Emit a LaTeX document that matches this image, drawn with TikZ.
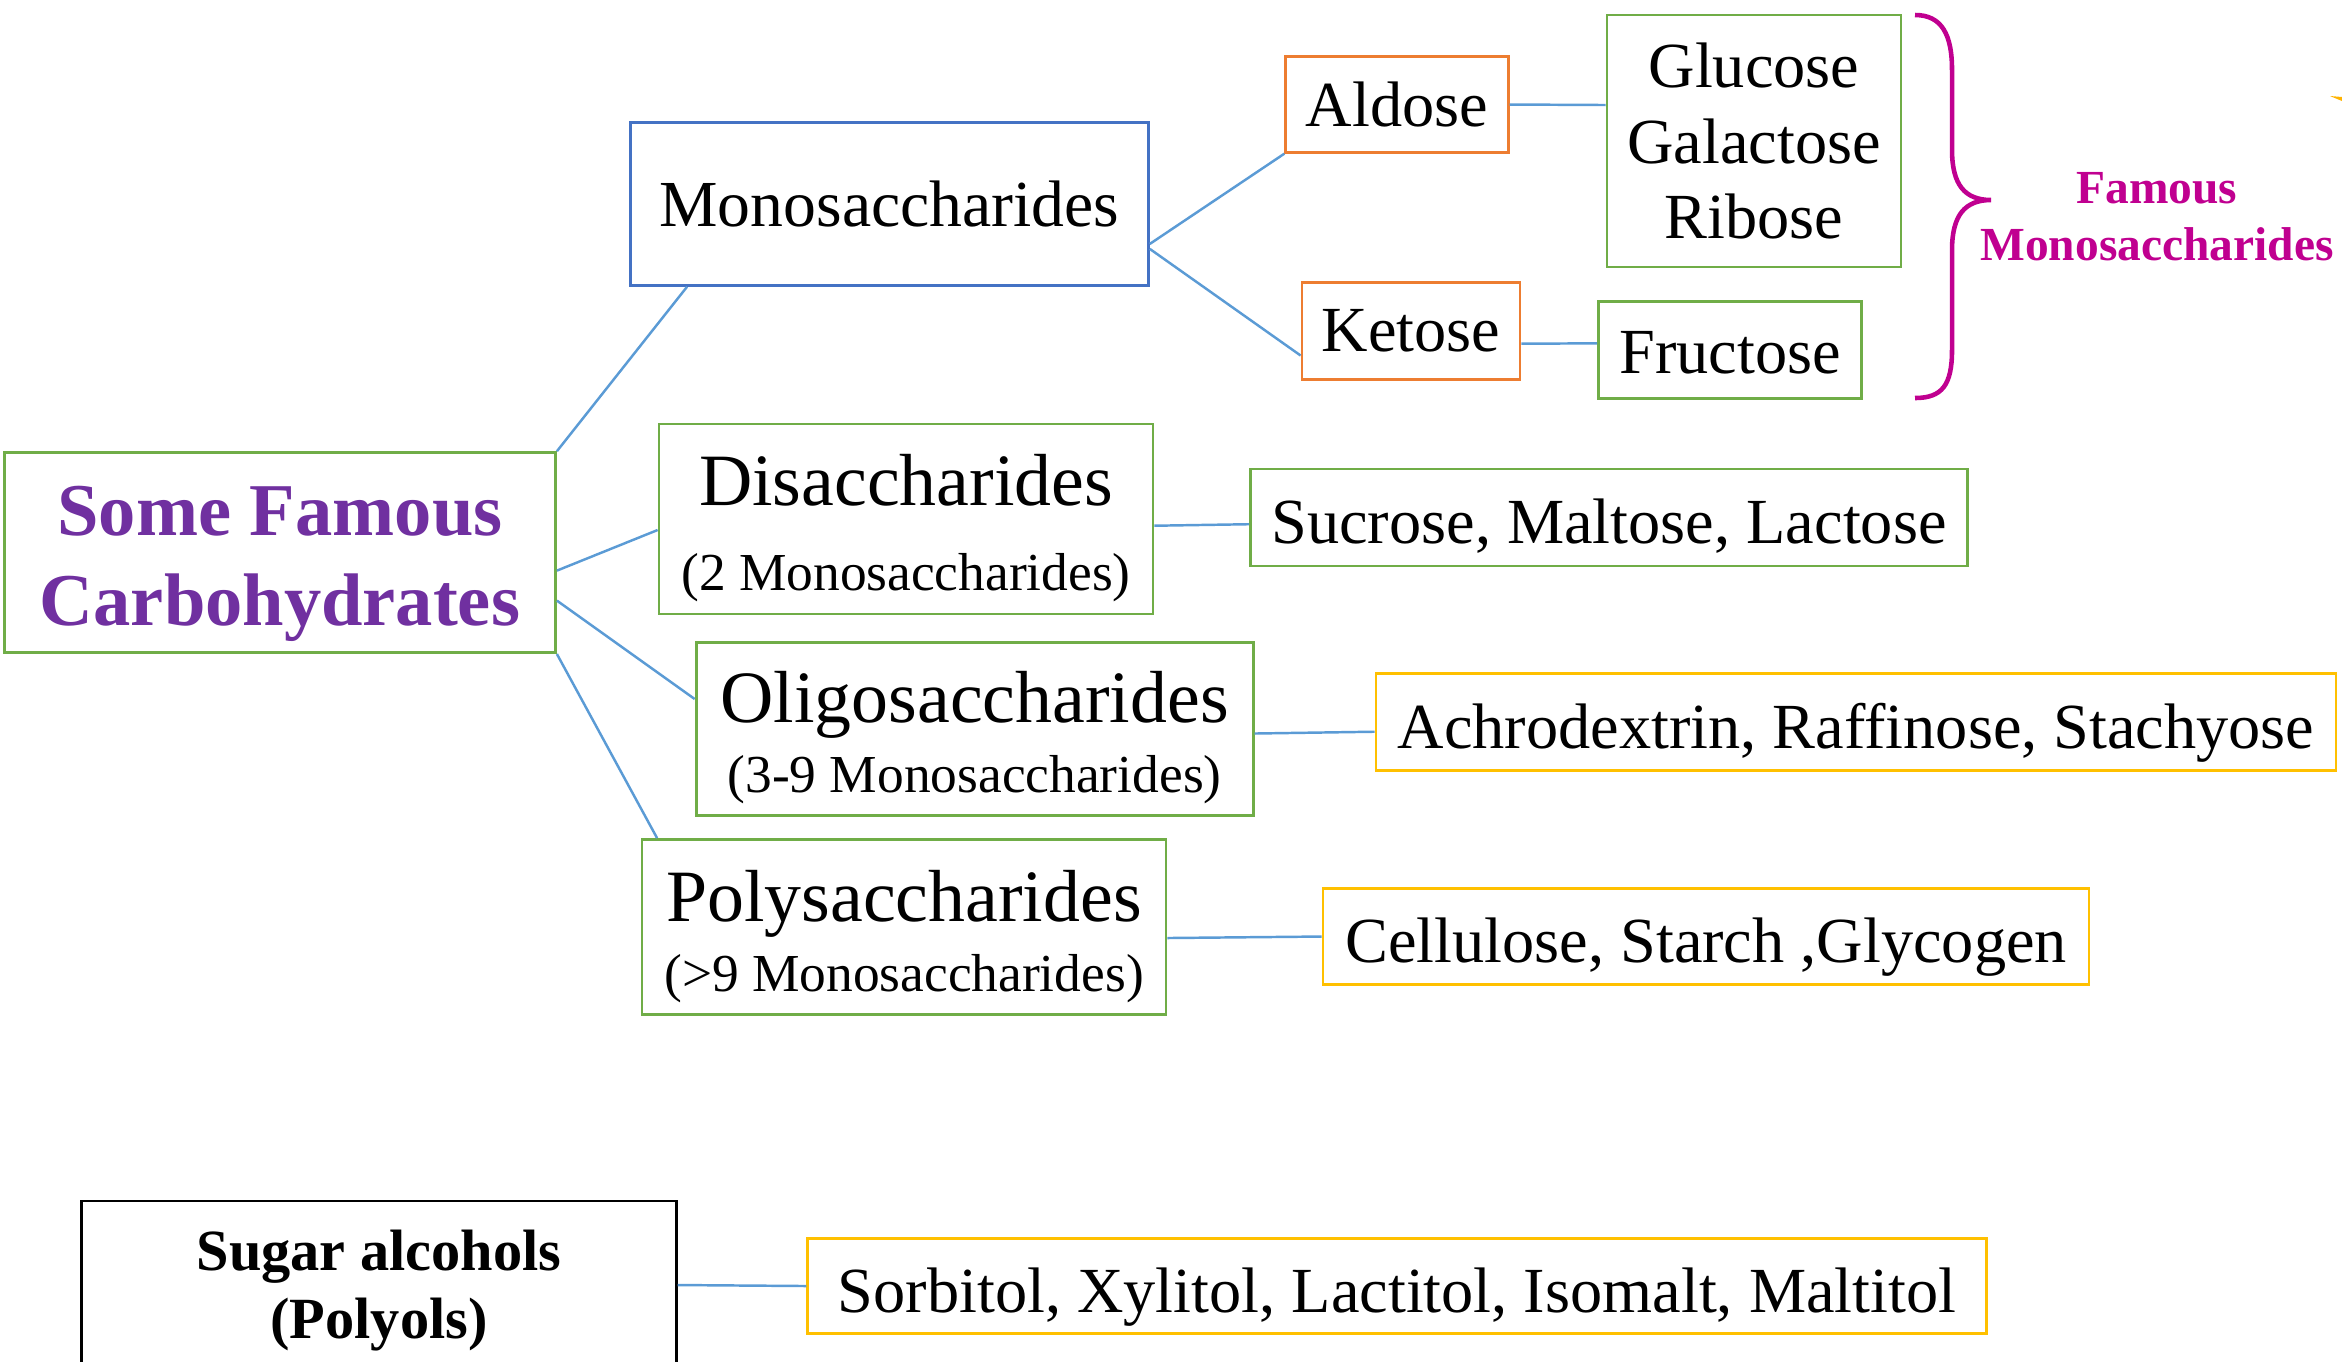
\documentclass[tikz,border=0pt]{standalone}
\usepackage{fontspec}
\setmainfont{Liberation Serif}

\definecolor{boxgreen}{HTML}{70AD47}
\definecolor{boxblue}{HTML}{4472C4}
\definecolor{boxorange}{HTML}{ED7D31}
\definecolor{boxyellow}{HTML}{FFC000}
\definecolor{linkblue}{HTML}{5B9BD5}
\definecolor{titlepurple}{HTML}{7030A0}
\definecolor{bracemagenta}{HTML}{C00090}

\tikzset{
	box/.style={draw, line width=0.8pt, inner sep=0pt, align=center, font=\fontsize{18.3}{21.6}\selectfont},
	greenbox/.style={box, draw=boxgreen},
	orangebox/.style={box, draw=boxorange},
	yellowbox/.style={box, draw=boxyellow},
	listbox/.style={text height=15pt, text depth=0pt},
	classbox/.style={greenbox, font=\fontsize{21}{25.5}\selectfont},
	link/.style={draw=linkblue, line width=0.7pt}
}
\newcommand{\subline}[1]{{\fontsize{15.2}{18}\selectfont #1}}

\begin{document}
\begin{tikzpicture}
		\useasboundingbox (0,0) rectangle (23.42,-13.61);

		\node[greenbox, minimum width=5.51cm, minimum height=2cm, text=titlepurple,
			font=\fontsize{21.2}{25.5}\selectfont\bfseries] (root) at (2.80,-5.526) {\rule{0pt}{20.4pt}Some Famous\\Carbohydrates};

		\node[box, draw=boxblue, minimum width=5.18cm, minimum height=1.63cm,
			font=\fontsize{18.7}{22}\selectfont] (mono) at (8.894,-2.039) {Monosaccharides};
		\node[classbox, minimum width=4.94cm, minimum height=1.90cm] (di) at (9.06,-5.19) {\rule{0pt}{19.8pt}Disaccharides\\[-1.3pt]\subline{(2 Monosaccharides)}};
		\node[classbox, minimum width=5.57cm, minimum height=1.73cm] (oligo) at (9.746,-7.29) {\rule{0pt}{19.5pt}Oligosaccharides\\[-5.5pt]\subline{(3-9 Monosaccharides)}};
		\node[classbox, minimum width=5.24cm, minimum height=1.75cm] (poly) at (9.04,-9.27) {\rule{0pt}{19.8pt}Polysaccharides\\[-5.6pt]\subline{(>9 Monosaccharides)}};

		\node[orangebox, minimum width=2.225cm, minimum height=0.955cm] (aldose) at (13.97,-1.045) {Aldose};
		\node[orangebox, minimum width=2.18cm, minimum height=0.97cm] (ketose) at (14.11,-3.31) {Ketose};

		\node[greenbox, minimum width=2.94cm, minimum height=2.52cm] (gluc) at (17.54,-1.41) {Glucose\\Galactose\\Ribose};
		\node[greenbox, minimum width=2.63cm, minimum height=0.97cm, text height=13.5pt, text depth=0pt] (fruc) at (17.30,-3.50) {Fructose};

		\node[greenbox, listbox, minimum width=7.17cm, minimum height=0.97cm] (sucrose) at (16.09,-5.175) {Sucrose, Maltose, Lactose};
		\node[yellowbox, listbox, minimum width=9.60cm, minimum height=0.97cm] (achro) at (18.56,-7.22) {Achrodextrin, Raffinose, Stachyose};
		\node[yellowbox, listbox, minimum width=7.66cm, minimum height=0.96cm] (cellu) at (17.06,-9.365) {Cellulose, Starch ,Glycogen};

		\node[box, minimum width=5.945cm, minimum height=1.68cm,
			font=\fontsize{16.6}{19.5}\selectfont\bfseries] (sugar) at (3.79,-12.85) {\rule{0pt}{14.6pt}Sugar alcohols\\(Polyols)};
		\node[yellowbox, listbox, minimum width=11.785cm, minimum height=0.956cm] (sorbitol) at (13.97,-12.86) {Sorbitol, Xylitol, Lactitol, Isomalt, Maltitol};

		\draw[link] (root.north east) -- ([xshift=0.58cm]mono.south west);
		\draw[link] ([yshift=-0.18cm]root.east) -- ([yshift=-0.11cm]di.west);
		\draw[link] ([yshift=-0.48cm]root.east) -- ([yshift=0.30cm]oligo.west);
		\draw[link] (root.south east) -- ([xshift=0.165cm]poly.north west);

		\draw[link] ([yshift=-0.40cm]mono.east) -- (aldose.south west);
		\draw[link] ([yshift=-0.45cm]mono.east) -- ([yshift=-0.245cm]ketose.west);
		\draw[link] (aldose.east) -- ([yshift=0.36cm]gluc.west);
		\draw[link] ([yshift=-0.127cm]ketose.east) -- ([yshift=0.067cm]fruc.west);

		\draw[link] ([yshift=-0.067cm]di.east) -- ([yshift=-0.067cm]sucrose.west);
		\draw[link] ([yshift=-0.045cm]oligo.east) -- ([yshift=-0.097cm]achro.west);
		\draw[link] ([yshift=-0.11cm]poly.east) -- (cellu.west);
		\draw[link] (sugar.east) -- (sorbitol.west);

		\draw[bracemagenta, line width=1.3pt] (19.15,-0.15) .. controls (19.42,-0.15) and (19.52,-0.35) .. (19.52,-0.70)
			-- (19.52,-1.50) .. controls (19.52,-1.85) and (19.65,-2.00) .. (19.91,-2.00)
			.. controls (19.65,-2.00) and (19.52,-2.15) .. (19.52,-2.50)
			-- (19.52,-3.50) .. controls (19.52,-3.85) and (19.42,-3.98) .. (19.15,-3.98);
		\node[text=bracemagenta, align=center, font=\fontsize{13.5}{16.2}\selectfont\bfseries] (famous) at (21.57,-2.17) {Famous\\Monosaccharides};

		\fill[boxyellow!80!orange] (23.30,-0.96) -- (23.42,-0.97) -- (23.42,-1.01) -- cycle;
	\end{tikzpicture}
\end{document}
